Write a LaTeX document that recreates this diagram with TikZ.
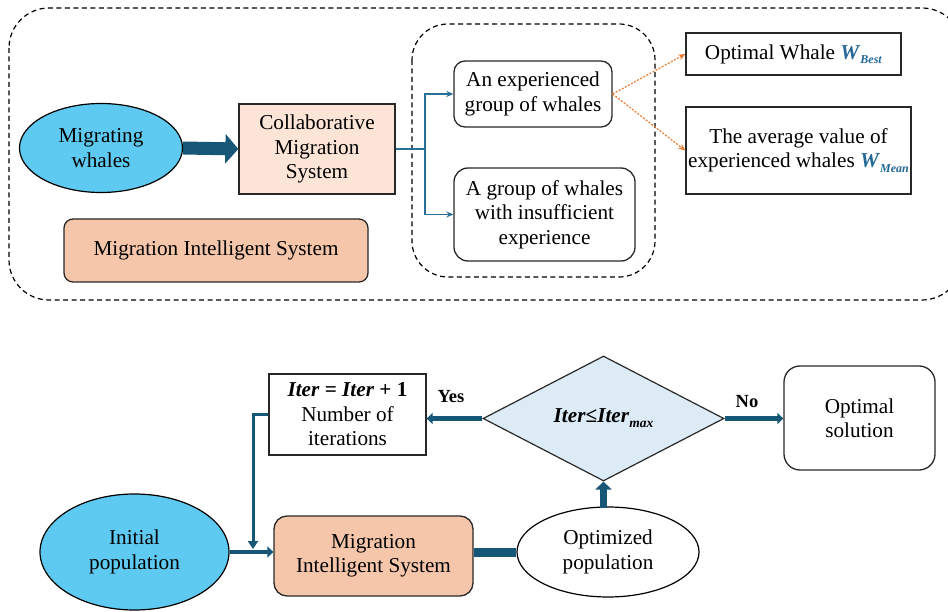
\documentclass[tikz,border=0pt]{standalone}
\usepackage{fontspec}
\setmainfont{Liberation Serif}
\usetikzlibrary{shapes.geometric,arrows.meta,calc}
\definecolor{dblue}{RGB}{22,86,118}
\definecolor{lblue}{RGB}{94,201,241}
\definecolor{peach}{RGB}{246,198,170}
\definecolor{lpeach}{RGB}{252,228,214}
\definecolor{diafill}{RGB}{221,235,247}
\definecolor{orng}{RGB}{237,125,49}
\definecolor{wblue}{RGB}{36,104,150}
\definecolor{cblue}{RGB}{40,112,152}
\definecolor{bord}{RGB}{40,40,40}
\newcommand{\wsub}[2]{{\color{wblue}\textbf{\textit{#1}}\raisebox{-0.45ex}{\fontsize{12}{12}\selectfont\textbf{\textit{#2}}}}}
\begin{document}
\begin{tikzpicture}[x=1pt,y=-1pt,
  font=\fontsize{21.2}{24.5}\selectfont,
  every node/.style={align=center,inner sep=0pt},
  boxsq/.style={draw=bord,line width=1.3pt,rectangle},
  boxrd/.style={draw=bord,line width=1.3pt,rectangle,rounded corners=#1},
  ell/.style={draw=black,line width=1.2pt,ellipse},
  dashbox/.style={draw=black,line width=1.2pt,dash pattern=on 5pt off 3.5pt},
  conn/.style={draw=cblue,line width=1.6pt},
  connarr/.style={conn,-{Stealth[length=7pt,width=6pt]}},
  orarr/.style={draw=orng,line width=1.2pt,dash pattern=on 2pt off 1.5pt,-{Stealth[length=7pt,width=6pt]}},
  flowarr/.style={draw=dblue,line width=4.5pt,-{Triangle[length=6pt,width=11pt]}},
  lab/.style={font=\fontsize{18.5}{22}\selectfont\bfseries}
]
\useasboundingbox (0,0) rectangle (948,612);
\begin{scope}
\clip (0,0) rectangle (948,612);
\draw[dashbox,rounded corners=40pt] (9,8) rectangle (962,300);
\end{scope}
\draw[dashbox,rounded corners=36pt] (412,24) rectangle (655,277);

% top row
\node[ell,fill=lblue,minimum width=163pt,minimum height=89pt] (mw) at (101,148) {Migrating\\whales};
\node[boxsq,fill=lpeach,minimum width=156pt,minimum height=90pt] (cms) at (317,149) {Collaborative\\Migration\\System};
\node[boxrd=9pt,fill=peach,minimum width=304pt,minimum height=63pt] (mis1) at (216,250.5) {Migration Intelligent System};
\node[boxrd=11pt,fill=white,minimum width=158pt,minimum height=66pt] (exp) at (533,94) {An experienced\\group of whales};
\node[boxrd=14pt,fill=white,minimum width=181pt,minimum height=93pt] (ins) at (544.5,214.5) {A group of whales\\with insufficient\\experience};
\node[boxsq,fill=white,minimum width=215pt,minimum height=42pt] (ow) at (793.5,54) {Optimal Whale \wsub{W}{Best}};
\node[boxsq,fill=white,minimum width=225pt,minimum height=87pt] (av) at (798.5,150.5) {The average value of\\experienced whales \wsub{W}{Mean}};

\draw[draw=dblue,line width=13pt,-{Triangle[length=13pt,width=29pt]}] (mw.east) -- (cms.west);
\coordinate (br) at (425,149);
\draw[conn] (cms.east) -- (br);
\draw[connarr] (br) |- (exp.west);
\draw[connarr] (br) |- (ins.west);
\draw[orarr] (exp.east) -- (ow.west);
\draw[orarr] (exp.east) -- (av.west);

% bottom row
\node[boxsq,fill=white,minimum width=157pt,minimum height=81pt] (iter) at (347.5,414.5) {\textbf{\textit{Iter} = \textit{Iter} + 1}\\Number of\\iterations};
\node[diamond,draw=bord,line width=1.2pt,fill=diafill,minimum width=241pt,minimum height=125pt] (dia) at (603.5,418.5) {\textbf{\textit{Iter}≤\textit{Iter}}\raisebox{-0.5ex}{\fontsize{13.5}{14}\selectfont\textbf{\textit{max}}}};
\node[boxrd=16pt,fill=white,minimum width=151pt,minimum height=104pt] (sol) at (859.5,418) {Optimal\\solution};
\node[ell,fill=lblue,minimum width=189pt,minimum height=116pt] (init) at (134.5,552) {Initial\\population};
\node[boxrd=13pt,fill=peach,minimum width=199pt,minimum height=80pt] (mis2) at (373.5,556) {Migration\\Intelligent System};
\node[ell,fill=white,minimum width=182pt,minimum height=90pt] (optp) at (608,552) {Optimized\\population};

\draw[flowarr] (dia.west) -- (dia.west -| iter.east);
\draw[flowarr] (dia.east) -- (dia.east -| sol.west);
\draw[flowarr] (init.east) -- (mis2.west |- init.east);
\coordinate (fb) at (253,549);
\draw[draw=dblue,line width=3pt,-{Triangle[length=8pt,width=10pt]}] (iter.west) -| (fb);
\draw[draw=dblue,line width=9pt] (mis2.east |- optp.west) -- (optp.west);
\coordinate (upst) at (603.5,508);
\draw[draw=dblue,line width=7pt,-{Triangle[length=8pt,width=16pt]}] (upst) -- (dia.south);

\node[lab] (yes) at (451,397) {Yes};
\node[lab] (no) at (747,402) {No};
\end{tikzpicture}
\end{document}
